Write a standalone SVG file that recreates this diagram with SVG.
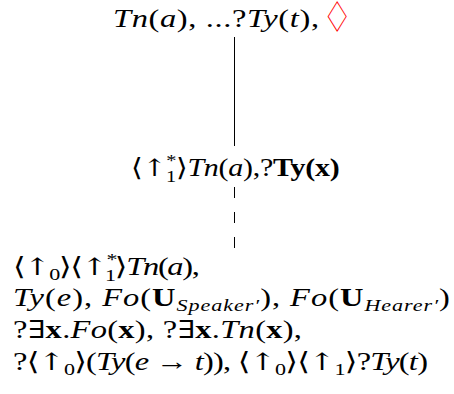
<svg xmlns="http://www.w3.org/2000/svg" width="454" height="394" viewBox="0 0 454 394">
<style>
.t { font-family: "Liberation Serif", "DejaVu Serif", serif; font-size: 25px; fill: #000; }
.i { font-style: italic; }
.b { font-weight: bold; }
.s { font-size: 17px; }
.a { font-family: "DejaVu Serif", serif; font-size: 24px; }
.red { fill: #ff0000; font-family: "DejaVu Sans", sans-serif; font-size: 34px; }
.edge { stroke: #000; stroke-width: 1; fill: none; }
.dash { stroke-dasharray: 11 14; }
</style>
<rect width="454" height="394" fill="#fff"/>
<g id="connectors">
  <line class="edge" x1="234.5" y1="37" x2="234.5" y2="146"/>
  <line class="edge dash" x1="234.5" y1="187" x2="234.5" y2="248"/>
</g>
<g id="node-top">
  <text class="t" transform="translate(113,27) scale(1.3,1)" x="0" y="0" textLength="158.5" lengthAdjust="spacing"><tspan class="i">Tn</tspan>(<tspan class="i">a</tspan>), ...?<tspan class="i">Ty</tspan>(<tspan class="i">t</tspan>),</text>
  <text class="t red" transform="translate(322,32) scale(1,1.25)" x="0" y="0">♢</text>
</g>
<g id="node-middle">
  <text class="t" transform="translate(131,176) scale(1.2,1)" x="0" y="0" textLength="174" lengthAdjust="spacing">⟨<tspan class="a">↑</tspan><tspan class="s" dy="-10">*</tspan><tspan class="s" dx="-8.5" dy="16">1</tspan><tspan dy="-6">⟩</tspan><tspan class="i">Tn</tspan>(<tspan class="i">a</tspan>),?<tspan class="b">Ty(x)</tspan></text>
</g>
<g id="node-bottom">
  <text class="t" transform="translate(13,275) scale(1.3,1)" x="0" y="0" textLength="143.8" lengthAdjust="spacing">⟨<tspan class="a">↑</tspan><tspan class="s" dy="5">0</tspan><tspan dy="-5">⟩⟨</tspan><tspan class="a">↑</tspan><tspan class="s" dy="-10">*</tspan><tspan class="s" dx="-8.5" dy="16">1</tspan><tspan dy="-6">⟩</tspan><tspan class="i">Tn</tspan>(<tspan class="i">a</tspan>),</text>
  <text class="t" transform="translate(13,306) scale(1.3,1)" x="0" y="0" textLength="336" lengthAdjust="spacing"><tspan class="i">Ty</tspan>(<tspan class="i">e</tspan>), <tspan class="i">Fo</tspan>(<tspan class="b">U</tspan><tspan class="s i" dy="5">Speaker′</tspan><tspan dy="-5">), </tspan><tspan class="i">Fo</tspan>(<tspan class="b">U</tspan><tspan class="s i" dy="5">Hearer′</tspan><tspan dy="-5">)</tspan></text>
  <text class="t" transform="translate(13,338) scale(1.3,1)" x="0" y="0" textLength="222.3" lengthAdjust="spacing">?∃<tspan class="b">x</tspan>.<tspan class="i">Fo</tspan>(<tspan class="b">x</tspan>), ?∃<tspan class="b">x</tspan>.<tspan class="i">Tn</tspan>(<tspan class="b">x</tspan>),</text>
  <text class="t" transform="translate(13,370) scale(1.3,1)" x="0" y="0" textLength="319.2" lengthAdjust="spacing">?⟨<tspan class="a">↑</tspan><tspan class="s" dy="5">0</tspan><tspan dy="-5">⟩(</tspan><tspan class="i">Ty</tspan>(<tspan class="i">e</tspan> → <tspan class="i">t</tspan>)), ⟨<tspan class="a">↑</tspan><tspan class="s" dy="5">0</tspan><tspan dy="-5">⟩⟨</tspan><tspan class="a">↑</tspan><tspan class="s" dy="5">1</tspan><tspan dy="-5">⟩?</tspan><tspan class="i">Ty</tspan>(<tspan class="i">t</tspan>)</text>
</g>
</svg>
